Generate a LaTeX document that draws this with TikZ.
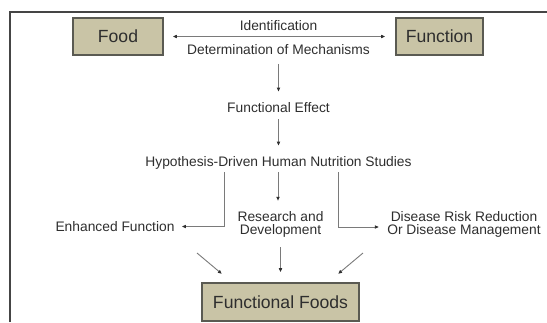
\documentclass[tikz,border=0pt]{standalone}
\usepackage{fontspec}
\setmainfont{Liberation Sans}
\usetikzlibrary{arrows.meta,calc}
\definecolor{boxfill}{HTML}{C9C4A6}
\definecolor{boxline}{HTML}{5A5A52}
\definecolor{txtcol}{HTML}{2E2E2E}
\definecolor{conngray}{HTML}{7A7A7A}
\definecolor{framecol}{HTML}{454545}
\begin{document}
\begin{tikzpicture}[x=1pt,y=-1pt,
  lbl/.style={inner sep=0pt, text=txtcol, font=\fontsize{13.8}{13.2}\selectfont, align=center},
  bigbox/.style={draw=boxline, line width=1.2pt, fill=boxfill, text=txtcol,
    font=\fontsize{17.6}{20}\selectfont, inner sep=0pt, minimum height=37pt},
  tip/.tip={Latex[length=4.2pt,width=3.8pt,color=txtcol]},
  connline/.style={draw=conngray, line width=0.9pt},
  conn/.style={connline, -tip},
]
\useasboundingbox (0,0) rectangle (547,322);
% outer frame
\draw[framecol, line width=1.6pt] (10,322) -- (10,12) -- (547,12);

% top row
\node[bigbox, minimum width=90pt] (food) at (118,36.5) {Food};
\node[bigbox, minimum width=87pt] (func) at (439.5,36.5) {Function};
\node[lbl] (ident) at (278.5,25.5) {Identification};
\node[lbl] (determ) at (278.5,50) {Determination of Mechanisms};
\draw[connline, tip-tip, shorten <=9pt, shorten >=10pt] (food) -- (func);

% central chain
\node[lbl] (fe) at (278.5,107.5) {Functional Effect};
\node[lbl] (hyp) at (278.5,162.5) {Hypothesis-Driven Human Nutrition Studies};
\draw[conn, shorten <=8.5pt, shorten >=10.4pt] (determ) -- (fe);
\draw[conn, shorten <=6.5pt, shorten >=10pt] (fe) -- (hyp);

% outcomes
\node[lbl] (enh) at (115,226.5) {Enhanced Function};
\node[lbl] (rd) at (280.5,224.5) {Research and\\Development};
\node[lbl] (dis) at (464,224.5) {Disease Risk Reduction\\Or Disease Management};

\coordinate (bl) at (224,172);
\coordinate (bm) at (278,172);
\coordinate (br) at (338,172);
\coordinate (tm) at (278,201);
\draw[conn, shorten >=7pt] (bl) |- (enh.east);
\draw[conn] (bm) -- (tm);
\draw[conn, shorten >=8pt] (br) |- ($(dis.west)+(0,2.5)$);

% functional foods
\node[bigbox, minimum width=157pt, minimum height=38pt] (ff) at (280.5,302) {Functional Foods};
\coordinate (dl1) at (197,253);
\coordinate (dl2) at (222,274);
\coordinate (dr1) at (363,253);
\coordinate (dr2) at (338,274);
\coordinate (dm1) at (280.5,247);
\draw[conn] (dl1) -- (dl2);
\draw[conn, shorten >=10pt] (dm1) -- (ff.north);
\draw[conn] (dr1) -- (dr2);
\end{tikzpicture}
\end{document}
